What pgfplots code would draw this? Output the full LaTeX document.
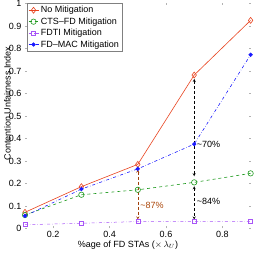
\documentclass[border=0pt]{standalone}
\usepackage{pgfplots}
\pgfplotsset{compat=1.18}
\usepackage{fontspec}
\setmainfont{Liberation Sans}
\definecolor{cred}{HTML}{E8431F}
\definecolor{cgreen}{HTML}{1E9A1E}
\definecolor{cpurple}{HTML}{A855F7}
\definecolor{cblue}{HTML}{1A1AFF}
\definecolor{cbrown}{HTML}{A0400A}
\begin{document}
\begin{tikzpicture}
\begin{axis}[
  name=ax,
  scale only axis, width=225.6pt, height=225pt,
  xmin=0.1, xmax=0.9, ymin=0, ymax=1,
  xtick={0.2,0.4,0.6,0.8}, ytick={0,0.1,...,1},
  axis line style={draw=none},
  tick style={draw=gray!60, thin}, major tick length=2pt,
  tick align=inside,
  clip=false,
  /pgf/number format/assume math mode=true,
  tick label style={font=\fontsize{9}{10}\selectfont},
  yticklabel style={/pgf/number format/fixed},
  xticklabel style={/pgf/number format/fixed, yshift=0.5pt},
  ylabel={Contention Unfairness Index},
  ylabel style={at={(axis description cs:-0.078,0.5556)}, anchor=center, font=\fontsize{9}{10}\selectfont},
  xlabel={\%age of FD STAs ($\times\,\lambda_{U}$)},
  xlabel style={at={(axis description cs:0.4566,-0.076)}, anchor=center, font=\fontsize{9}{10}\selectfont},
  legend style={at={(axis description cs:0.009,1.002)},anchor=north west,
    draw=gray, font=\fontsize{9}{10}\selectfont, inner sep=1pt, row sep=-0.6pt,
    legend cell align=left},
  legend image code/.code={\draw[mark repeat=2,mark phase=2,#1] plot coordinates {(0pt,0pt) (5pt,0pt) (10pt,0pt)};},
]
\addplot[color=cred, solid, line width=0.6pt, mark=diamond, mark size=3pt, mark options={solid}]
  coordinates {(0.1,0.072) (0.3,0.186) (0.5,0.285) (0.7,0.682) (0.9,0.925)};
\addlegendentry{No Mitigation}
\addplot[color=cgreen, dashed, line width=0.6pt, mark=o, mark size=2.7pt, mark options={solid}]
  coordinates {(0.1,0.060) (0.3,0.150) (0.5,0.172) (0.7,0.205) (0.9,0.245)};
\addlegendentry{CTS--FD Mitigation}
\addplot[color=cpurple, dash dot, line width=0.5pt, mark=square, mark size=2pt, mark options={solid, draw=cpurple}]
  coordinates {(0.1,0.017) (0.3,0.023) (0.5,0.031) (0.7,0.030) (0.9,0.030)};
\addlegendentry{FDTI Mitigation}
\addplot[color=cblue, dash dot, line width=0.6pt, mark=*, mark size=1.8pt, mark options={solid}]
  coordinates {(0.1,0.056) (0.3,0.175) (0.5,0.265) (0.7,0.375) (0.9,0.772)};
\addlegendentry{FD--MAC Mitigation}
\draw[cbrown, densely dashed, <->, >=stealth, thin] (axis cs:0.5,0.262) -- (axis cs:0.5,0.04);
\draw[black, densely dashed, <->, >=stealth, thin] (axis cs:0.7,0.665) -- (axis cs:0.7,0.232);
\draw[black, densely dashed, <->, >=stealth, thin] (axis cs:0.7,0.188) -- (axis cs:0.7,0.04);
\node[anchor=west, text=cbrown!90!orange, font=\fontsize{9}{10}\selectfont, inner sep=1pt] at (axis cs:0.505,0.103) {\textasciitilde 87\%};
\node[anchor=west, font=\fontsize{9}{10}\selectfont, inner sep=1pt] at (axis cs:0.705,0.372) {\textasciitilde 70\%};
\node[anchor=west, font=\fontsize{9}{10}\selectfont, inner sep=1pt] at (axis cs:0.705,0.12) {\textasciitilde 84\%};
\end{axis}
\pgfresetboundingbox
\path[use as bounding box] ([shift={(-25pt,-24.5pt)}]ax.south west) rectangle ([shift={(229pt,228.5pt)}]ax.south west);
\end{tikzpicture}
\end{document}
